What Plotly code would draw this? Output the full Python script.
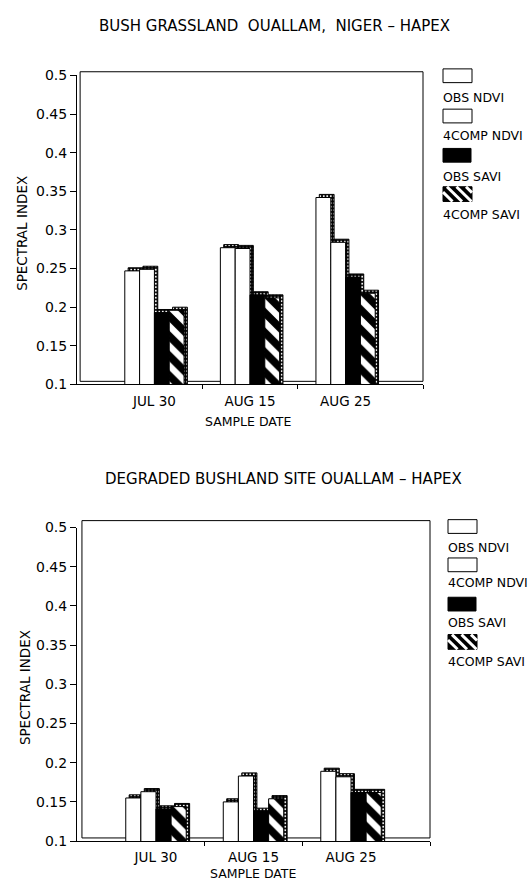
import plotly.graph_objects as go

W, H = 529, 892

# ---------------- data ----------------
dates = ["JUL 30", "AUG 15", "AUG 25"]
series_names = ["OBS NDVI", "4COMP NDVI", "OBS SAVI", "4COMP SAVI"]
y_tick_vals = [0.1, 0.15, 0.2, 0.25, 0.3, 0.35, 0.4, 0.45, 0.5]
y_tick_text = ["0.1", "0.15", "0.2", "0.25", "0.3", "0.35", "0.4", "0.45", "0.5"]

# Bush grassland, Ouallam
grass_obs_ndvi = [0.247, 0.277, 0.342]
grass_4comp_ndvi = [0.249, 0.276, 0.284]
grass_obs_savi = [0.193, 0.216, 0.239]
grass_4comp_savi = [0.196, 0.212, 0.218]

# Degraded bushland, Ouallam
degr_obs_ndvi = [0.155, 0.150, 0.189]
degr_4comp_ndvi = [0.163, 0.183, 0.182]
degr_obs_savi = [0.141, 0.138, 0.162]
degr_4comp_savi = [0.144, 0.154, 0.162]

title_grass = "BUSH GRASSLAND\u00a0\u00a0OUALLAM,\u00a0\u00a0NIGER \u2013 HAPEX"
title_degr = "DEGRADED BUSHLAND SITE OUALLAM \u2013 HAPEX"
y_title = "SPECTRAL INDEX"
x_title = "SAMPLE DATE"

# ---------------- style ----------------
FONT = "DejaVu Sans"
BAR_W = 0.155
OFFSETS = [-0.31, -0.155, 0.0, 0.155]
DX, DY = 0.035, 0.004
XRANGE = [-0.81, 2.81]


def px(x):
    return x / W


def py(y):
    return 1 - y / H


line_k = dict(color="black", width=1)
front_markers = [
    dict(color="white", line=line_k),
    dict(color="white", line=line_k),
    dict(color="black", line=line_k),
    dict(color="black", line=line_k,
         pattern=dict(shape="\\", fgcolor="white", bgcolor="black", fgopacity=1,
                      size=14, solidity=0.45)),
]
side_marker = dict(color="black", line=line_k,
                   pattern=dict(shape=".", fgcolor="white", bgcolor="black", fgopacity=1,
                                size=3.5, solidity=0.25))

fig = go.Figure()
xpos = list(range(len(dates)))


def add_panel(values_list, xa, ya):
    # side/top faces (pseudo 3D), drawn first
    for vals, off in zip(values_list, OFFSETS):
        fig.add_trace(go.Bar(x=xpos, y=[v + DY for v in vals], offset=off + DX, width=BAR_W,
                             marker=side_marker, xaxis=xa, yaxis=ya, showlegend=False,
                             hoverinfo="skip"))
    for name, vals, off, mk in zip(series_names, values_list, OFFSETS, front_markers):
        fig.add_trace(go.Bar(x=xpos, y=vals, offset=off, width=BAR_W, marker=mk, name=name,
                             xaxis=xa, yaxis=ya, showlegend=False))


add_panel([grass_obs_ndvi, grass_4comp_ndvi, grass_obs_savi, grass_4comp_savi], "x", "y")
add_panel([degr_obs_ndvi, degr_4comp_ndvi, degr_obs_savi, degr_4comp_savi], "x2", "y2")

ytickfont = dict(family=FONT, size=14, color="black")
xtickfont = dict(family=FONT, size=13.5, color="black")


def xaxis_cfg(domain, anchor):
    return dict(domain=domain, anchor=anchor, range=XRANGE, showline=True, linecolor="black",
                linewidth=1, showgrid=False, zeroline=False, tickmode="array", tickvals=xpos,
                ticktext=dates, ticks="outside", ticklen=4, tickcolor="rgba(0,0,0,0)",
                tickfont=xtickfont, fixedrange=True,
                minor=dict(tickmode="array", tickvals=[0.5, 1.5, XRANGE[1]], ticks="outside",
                           ticklen=4, tickcolor="black", tickwidth=1, showgrid=False))


def yaxis_cfg(domain, anchor):
    return dict(domain=domain, anchor=anchor, range=[0.1, 0.5], showline=True, linecolor="black",
                linewidth=1, showgrid=False, zeroline=False, tickmode="array",
                tickvals=y_tick_vals, ticktext=y_tick_text, ticks="outside", ticklen=6,
                tickcolor="black", tickfont=ytickfont, fixedrange=True)


annotations = []
shapes = []


def text(x, y, s, size, angle=0, xanchor="center"):
    annotations.append(dict(x=px(x), y=py(y), xref="paper", yref="paper", text=s,
                            showarrow=False, textangle=angle, xanchor=xanchor, yanchor="middle",
                            borderpad=0, font=dict(family=FONT, size=size, color="black")))


def seg(x0, y0, x1, y1, color="black", width=1):
    shapes.append(dict(type="line", xref="paper", yref="paper", x0=px(x0), y0=py(y0),
                       x1=px(x1), y1=py(y1), line=dict(color=color, width=width)))


def rect(x0, y0, x1, y1, fill):
    shapes.append(dict(type="rect", xref="paper", yref="paper", x0=px(x0), y0=py(y0),
                       x1=px(x1), y1=py(y1), fillcolor=fill, line=dict(color="black", width=1)))


def hatch_box(x0, y0, x1, y1, period=9.5):
    rect(x0, y0, x1, y1, "black")
    w, h = x1 - x0, y1 - y0
    c = -h
    while c < w:
        va, vb = max(0, -c), min(h, w - c)
        if vb > va:
            seg(x0 + va + c, y0 + va, x0 + vb + c, y0 + vb, color="white", width=3)
        c += period


def back_wall(xa, ya, left, top):
    xr, yr = xa + " domain", ya + " domain"
    for (a, b, c, d) in [(left, top, 1, top), (1, top, 1, 0.01), (left, top, left, 0.01),
                         (left, 0.01, 1, 0.01)]:
        shapes.append(dict(type="line", xref=xr, yref=yr, x0=a, y0=b, x1=c, y1=d,
                           line=dict(color="black", width=1), layer="below"))


def legend(x0, tops, label_ys):
    for i, (t, ly, name) in enumerate(zip(tops, label_ys, series_names)):
        if i < 2:
            rect(x0, t, x0 + 29, t + 14, "white")
        elif i == 2:
            rect(x0, t, x0 + 28, t + 14, "black")
        else:
            hatch_box(x0, t, x0 + 29, t + 15)
        text(x0 - 1, ly, name, 12.5, xanchor="left")


# top panel
text(274, 18.5, title_grass, 15)
text(22, 230, y_title, 13.5, angle=-90)
text(248, 421, x_title, 12.5)
back_wall("x", "y", 0.009, 1.012)
legend(443, [62, 103, 143, 182], [91, 130, 172, 210])

# bottom panel
text(283, 480, title_degr, 15)
text(24.5, 692, y_title, 13.5, angle=-90)
text(253, 881, x_title, 12.5)
back_wall("x2", "y2", 0.014, 1.022)
legend(448, [521, 560, 600, 638], [549, 585, 626, 665])

fig.update_layout(
    width=W, height=H, autosize=False,
    margin=dict(l=0, r=0, t=0, b=0),
    paper_bgcolor="white", plot_bgcolor="white",
    barmode="overlay", showlegend=False,
    font=dict(family=FONT, color="black"),
    xaxis=xaxis_cfg([px(77), px(423)], "y"),
    yaxis=yaxis_cfg([py(383.3), py(68.7)], "x"),
    xaxis2=xaxis_cfg([px(77), px(430)], "y2"),
    yaxis2=yaxis_cfg([py(848.3), py(529)], "x2"),
    annotations=annotations,
    shapes=shapes,
)

fig.write_html(
    "out.html",
    config={"displayModeBar": False},
    post_script=(
        "document.documentElement.style.margin='0';"
        "document.documentElement.style.padding='0';"
        "document.documentElement.style.overflow='hidden';"
        "document.body.style.margin='0';"
        "document.body.style.padding='0';"
        "document.body.style.overflow='hidden';"
    ),
)
